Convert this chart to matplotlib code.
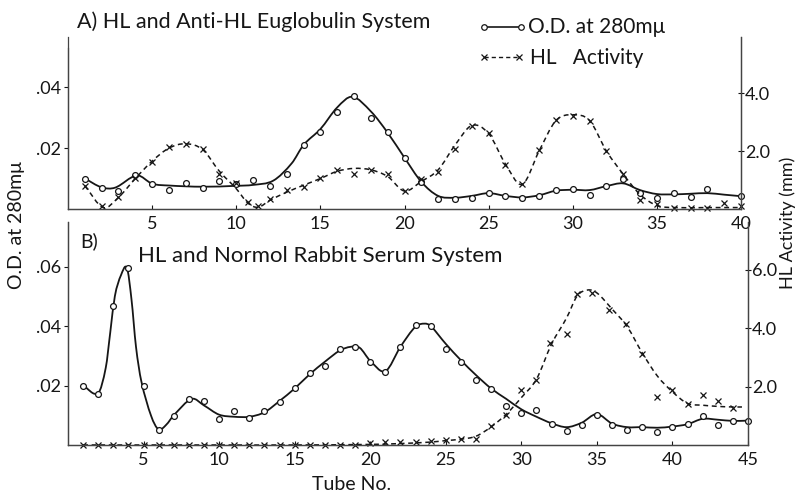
import numpy as np
import matplotlib
matplotlib.use("Agg")
import matplotlib.pyplot as plt
from matplotlib.path import Path
from matplotlib.patches import PathPatch
from matplotlib.lines import Line2D

plt.rcParams['font.family'] = ['Lato', 'DejaVu Sans']

# ---- Panel A: HL and Anti-HL Euglobulin System ----
a_od_tube = list(range(1, 39)) + [40]
a_od = [0.0100, 0.0070, 0.0058, 0.0113, 0.0083, 0.0061, 0.0085, 0.0070, 0.0093, 0.0083,
        0.0096, 0.0077, 0.0116, 0.0209, 0.0252, 0.0319, 0.0370, 0.0300, 0.0252, 0.0166,
        0.0087, 0.0033, 0.0032, 0.0035, 0.0052, 0.0041, 0.0037, 0.0042, 0.0062, 0.0064,
        0.0045, 0.0076, 0.0098, 0.0053, 0.0037, 0.0054, 0.0040, 0.0066, 0.0042]
# hand-drawn fitted curve through the O.D. points
a_od_fit_tube = [1, 2, 2.8, 4.1, 5, 6, 8, 10, 11, 12.2, 13.3, 14, 15, 16, 16.9, 18, 19, 20,
                 21, 22, 23, 24, 25, 26, 27, 28, 29, 30, 31, 32, 33, 34, 35, 36, 37, 38, 39, 40]
a_od_fit = [0.0100, 0.0071, 0.0070, 0.0110, 0.0083, 0.0077, 0.0073, 0.0076, 0.0079, 0.0093,
            0.0150, 0.0210, 0.0262, 0.0333, 0.0368, 0.0320, 0.0250, 0.0168, 0.0089, 0.0043,
            0.0037, 0.0043, 0.0052, 0.0043, 0.0038, 0.0045, 0.0060, 0.0063, 0.0062, 0.0075,
            0.0084, 0.0062, 0.0049, 0.0048, 0.0050, 0.0052, 0.0047, 0.0042]

a_hl_tube = [1, 2, 3, 4, 5, 6, 7, 8, 9, 10, 10.7, 11.3, 12, 13, 14, 15, 16, 17, 18, 19, 20,
             21, 22, 23, 24, 25, 26, 27, 28, 29, 30, 31, 32, 33, 34, 35, 36, 37, 38, 39, 40]
a_hl = [0.81, 0.11, 0.41, 1.06, 1.63, 2.14, 2.25, 2.07, 1.20, 0.91, 0.24, 0.12, 0.35, 0.67,
        0.75, 1.07, 1.34, 1.22, 1.36, 1.19, 0.61, 1.03, 1.26, 2.08, 2.87, 2.62, 1.51, 0.87,
        2.03, 3.07, 3.20, 3.04, 2.00, 1.22, 0.30, 0.17, 0.05, 0.05, 0.05, 0.19, 0.09]
a_hl_fit_tube = [1, 2.1, 3, 4, 5, 6, 7, 8, 9, 10, 10.7, 11.3, 12, 13, 14, 15, 16, 17, 18, 19,
                 20, 21, 22, 23, 24, 25, 26, 27, 28, 29, 30, 31, 32, 33, 34, 35, 36, 38, 40]
a_hl_fit = [0.80, 0.05, 0.40, 1.05, 1.65, 2.10, 2.25, 2.05, 1.30, 0.70, 0.20, 0.06, 0.30,
            0.58, 0.82, 1.05, 1.30, 1.40, 1.35, 1.12, 0.62, 0.95, 1.35, 2.20, 2.88, 2.60,
            1.55, 0.85, 2.00, 3.05, 3.25, 3.05, 2.00, 1.20, 0.50, 0.12, 0.05, 0.05, 0.05]

# ---- Panel B: HL and Normal Rabbit Serum System ----
b_od_tube = list(range(1, 46))
b_od = [0.0200, 0.0173, 0.0467, 0.0595, 0.0199, 0.0051, 0.0098, 0.0155, 0.0147, 0.0087,
        0.0113, 0.0090, 0.0113, 0.0143, 0.0191, 0.0242, 0.0267, 0.0323, 0.0330, 0.0280,
        0.0246, 0.0330, 0.0402, 0.0400, 0.0324, 0.0278, 0.0220, 0.0187, 0.0132, 0.0108,
        0.0118, 0.0071, 0.0048, 0.0068, 0.0101, 0.0068, 0.0050, 0.0060, 0.0043, 0.0060,
        0.0069, 0.0096, 0.0066, 0.0079, 0.0082]
b_od_fit_tube = [1, 2, 2.5, 2.8, 3.1, 3.5, 3.9, 4.2, 4.5, 4.85, 5.5, 6, 6.5, 7, 8.2, 9, 10,
                 11, 12, 13, 14, 15, 16, 17, 18, 18.7, 19.3, 20, 21, 22, 23, 23.6, 24, 25,
                 26, 27, 28, 29, 30, 31, 32, 33, 34, 35, 36, 37, 38, 39, 40, 41, 42, 43, 44, 45]
b_od_fit = [0.0200, 0.0175, 0.0260, 0.0380, 0.0500, 0.0570, 0.0595, 0.0490, 0.0330, 0.0215,
            0.0098, 0.0052, 0.0068, 0.0100, 0.0155, 0.0133, 0.0102, 0.0095, 0.0095, 0.0110,
            0.0148, 0.0190, 0.0238, 0.0280, 0.0318, 0.0330, 0.0327, 0.0283, 0.0248, 0.0330,
            0.0398, 0.0408, 0.0400, 0.0340, 0.0285, 0.0235, 0.0190, 0.0155, 0.0120, 0.0095,
            0.0073, 0.0060, 0.0075, 0.0104, 0.0072, 0.0060, 0.0060, 0.0058, 0.0062, 0.0070,
            0.0088, 0.0085, 0.0081, 0.0082]

b_hl_tube = list(range(1, 32)) + [31.9, 33, 33.7, 34.7, 35.8, 36.9, 38, 39, 40, 41, 42, 43, 44]
b_hl = [0.0] * 19 + [0.07, 0.10, 0.10, 0.10, 0.14, 0.16, 0.22, 0.22, 0.64, 1.01, 1.87, 2.23,
                     3.48, 3.80, 5.16, 5.18, 4.60, 4.15, 3.12, 1.64, 1.87, 1.40, 1.70, 1.51, 1.26]
b_hl_fit_tube = [1, 5, 10, 15, 20, 22, 24, 25, 26, 27, 28, 29, 30, 31, 32, 33, 33.7, 34.4, 35,
                 36, 37, 38, 39, 40, 41, 42, 43, 44, 44.6]
b_hl_fit = [0, 0, 0, 0, 0.02, 0.05, 0.10, 0.15, 0.20, 0.30, 0.62, 1.05, 1.62, 2.25, 3.45,
            4.35, 5.10, 5.30, 5.20, 4.65, 4.05, 3.15, 2.36, 1.82, 1.42, 1.36, 1.32, 1.30, 1.30]

INK = '#161616'
W, H = 799, 494


def fx(px):
    return px / W


def fy(py):
    return 1 - py / H


# smooth curve through the fitted knots (cubic hermite, x stays monotonic)
def smooth_path(xs, ys):
    xs = np.asarray(xs, float)
    ys = np.asarray(ys, float)
    n = len(xs)
    m = np.zeros(n)
    for i in range(n):
        lo, hi = max(i - 1, 0), min(i + 1, n - 1)
        m[i] = (ys[hi] - ys[lo]) / (xs[hi] - xs[lo])
    verts = [(xs[0], ys[0])]
    codes = [Path.MOVETO]
    for i in range(n - 1):
        h = xs[i + 1] - xs[i]
        verts += [(xs[i] + h / 3, ys[i] + m[i] * h / 3),
                  (xs[i + 1] - h / 3, ys[i + 1] - m[i + 1] * h / 3),
                  (xs[i + 1], ys[i + 1])]
        codes += [Path.CURVE4] * 3
    return Path(verts, codes)


def draw_curve(ax, xs, ys, dashed=False):
    ls = (0, (3.2, 2.4)) if dashed else '-'
    patch = PathPatch(smooth_path(xs, ys), fill=False, edgecolor=INK,
                      linewidth=1.1 if dashed else 1.3, linestyle=ls, clip_on=False)
    ax.add_patch(patch)


def style_axes(ax, ax2, xmax):
    ax.spines['top'].set_visible(False)
    ax2.spines['top'].set_visible(False)
    for a in (ax, ax2):
        for s in a.spines.values():
            s.set_linewidth(0.9)
            s.set_color('#444444')
    ax.set_xlim(0, xmax)
    ax.set_xticks(range(5, xmax + 1, 5))
    ax.tick_params(axis='x', direction='in', length=3, width=0.8, labelsize=13, pad=5,
                   colors=INK)
    ax.tick_params(axis='y', direction='out', length=3, width=0.8, labelsize=13, pad=2,
                   colors=INK)
    ax2.tick_params(axis='y', direction='inout', length=4, width=0.8, labelsize=13, pad=1,
                    colors=INK)


def od_fmt(v):
    return ('%.2f' % v)[1:]


fig = plt.figure(figsize=(W / 100, H / 100), dpi=100)

# panel A axes
a_top, a_bot = 37, 209
axA = fig.add_axes([fx(68), fy(a_bot), fx(741) - fx(68), (a_bot - a_top) / H])
axA.patch.set_alpha(0)
axA2 = axA.twinx()
axA.set_ylim(0, (a_bot - a_top) / 61 * 0.02)
axA2.set_ylim(0, (a_bot - a_top) / 29.0)
axA.spines['left'].set_bounds(0, (a_bot - 48) / 61 * 0.02)
style_axes(axA, axA2, 40)
axA.set_yticks([0.02, 0.04])
axA.set_yticklabels([od_fmt(v) for v in [0.02, 0.04]])
axA2.set_yticks([2, 4])
axA2.set_yticklabels(['2.0', '4.0'])

draw_curve(axA, a_od_fit_tube, a_od_fit)
axA.plot(a_od_tube, a_od, 'o', ms=4.2, mfc='white', mec=INK, mew=0.9, clip_on=False)
draw_curve(axA2, a_hl_fit_tube, a_hl_fit, dashed=True)
axA2.plot(a_hl_tube, a_hl, 'x', ms=4.5, mec=INK, mew=0.9, clip_on=False)

# panel B axes
b_top, b_bot = 222, 445
axB = fig.add_axes([fx(68), fy(b_bot), fx(748) - fx(68), (b_bot - b_top) / H])
axB.patch.set_alpha(0)
axB2 = axB.twinx()
axB.set_ylim(0, (b_bot - b_top) / 59.5 * 0.02)
axB2.set_ylim(0, (b_bot - b_top) / 29.25)
style_axes(axB, axB2, 45)
axB.set_yticks([0.02, 0.04, 0.06])
axB.set_yticklabels([od_fmt(v) for v in [0.02, 0.04, 0.06]])
axB2.set_yticks([2, 4, 6])
axB2.set_yticklabels(['2.0', '4.0', '6.0'])

draw_curve(axB, b_od_fit_tube, b_od_fit)
axB.plot(b_od_tube, b_od, 'o', ms=4.2, mfc='white', mec=INK, mew=0.9, clip_on=False)
draw_curve(axB2, b_hl_fit_tube, b_hl_fit, dashed=True)
axB2.plot(b_hl_tube, b_hl, 'x', ms=4.5, mec=INK, mew=0.9, clip_on=False)

# titles and labels
fig.text(fx(77), fy(22), 'A) HL and Anti-HL Euglobulin System', fontsize=15.5,
         va='center', ha='left', color=INK)
fig.text(fx(80), fy(241), 'B)', fontsize=14, va='center', ha='left', color=INK)
fig.text(fx(138), fy(256), 'HL and Normol Rabbit Serum System', fontsize=16,
         va='center', ha='left', color=INK)
fig.text(fx(17), fy(225), 'O.D. at 280m\u03bc', rotation=90, fontsize=14,
         va='center', ha='center', color=INK)
fig.text(fx(788), fy(223), 'HL Activity (mm)', rotation=90, fontsize=13,
         va='center', ha='center', color=INK)
fig.text(fx(352), fy(484), 'Tube No.', fontsize=14, va='center', ha='center', color=INK)

# legend, drawn by hand like the original
fig.add_artist(Line2D([fx(484), fx(521)], [fy(27), fy(27)], color=INK, lw=1.2,
                      marker='o', ms=4, mfc='white', mec=INK, mew=0.9))
fig.text(fx(528), fy(27), 'O.D. at 280m\u03bc', fontsize=15, va='center', ha='left', color=INK)
fig.add_artist(Line2D([fx(484), fx(519)], [fy(57), fy(57)], color=INK, lw=1.0,
                      linestyle=(0, (3, 2.2)), marker='x', ms=4.5, mec=INK, mew=0.9))
fig.text(fx(530), fy(58), 'HL   Activity', fontsize=15, va='center', ha='left', color=INK)

fig.savefig('out.png', dpi=100)
